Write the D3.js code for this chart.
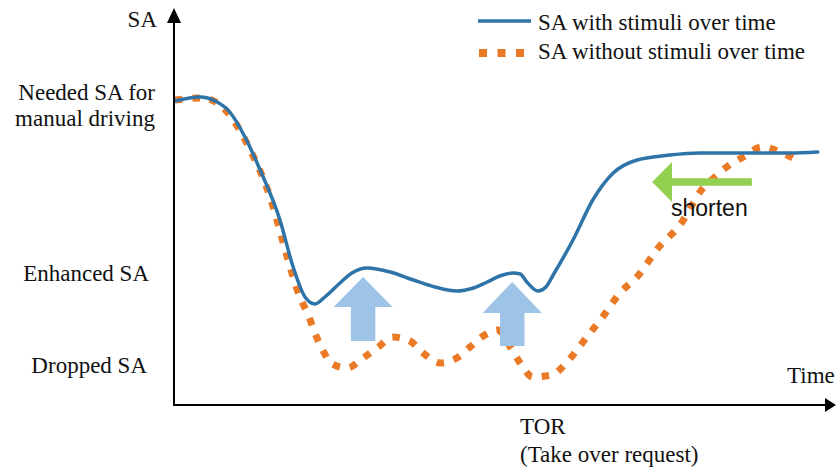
<!DOCTYPE html>
<html><head><meta charset="utf-8">
<script src="https://cdn.jsdelivr.net/npm/d3@7"></script>
<style>
html,body{margin:0;padding:0;background:#fff;}
svg{display:block;}
</style>
</head><body>
<svg id="chart" width="836" height="470"></svg>
<script>
// ---- data (time 0..100, SA 0..100) ----
const withTime = [0,3.8,6.1,8.3,10.6,12.9,15.9,17.9,19.7,21.2,22.7,25,26.8,29.1,32.6,36.1,39.4,42.7,45.2,47.3,49.2,51.2,52.3,53.3,55,56.2,57.3,60.3,63.3,66.4,70,75,79.5,87.1,93.2,97.4];
const withSA   = [76,77,76,73.25,67,58.75,46.25,34.5,27,25.25,27,30.5,33,34.25,33.25,31.25,29.5,28.5,29.25,30.75,32.25,33,32.75,30.75,28.5,29.5,32.5,41.25,51.25,58,61.25,62.5,63,63,63,63.25];
const withoutTime = [0,4.2,7.9,11.4,14.4,17,18.9,20.2,21.2,22.3,23.8,26.1,28.5,30.8,33,35.6,37.6,40.2,42.7,44.7,46.7,48.9,50.8,52.3,54.2,57.1,59.4,62.4,64.8,67.4,70,73.2,76.5,80,81.8,83.8,86.1,88.9,91.7,94.2];
const withoutSA   = [76.25,76.75,73.25,63.75,52,37,27,22.5,18,14,10.25,9.25,11.75,14.5,17,16,13,10.5,11.75,14.5,17.25,18.75,14.5,10.5,7,7.5,10.75,17,22,28,32,39.25,45,54.25,57,59.75,62,64.5,63.25,61.25];
const seriesNames = ["SA with stimuli over time","SA without stimuli over time"];
const levelLabels = ["Needed SA for","manual driving","Enhanced SA","Dropped SA"];
const axisLabels = ["SA","Time","TOR","(Take over request)"];
// up arrows: [tipT, tipV, headBaseV, bottomV]
const upArrows = [[28.5,32,24.5,16],[51.1,30.75,23,14.75]];
// shorten arrow: [tipT, headBaseT, endT, v]
const shortenArrow = [72.3,75.3,87.4,55.75];
const shortenLabel = "shorten";

const SERIF = "'Liberation Serif', 'Times New Roman', Times, serif";
const SANS = "'Liberation Sans', Arial, Helvetica, sans-serif";

const svg = d3.select("#chart");
const x = d3.scaleLinear().domain([0,100]).range([175,835]);
const y = d3.scaleLinear().domain([0,100]).range([405,5]);
const px = v => x(v)-x(0), py = v => y(0)-y(v);

const BLUE="#2e74a8", ORANGE="#eb7a27", LBLUE="#9dc3e6", GREEN="#92d050";

const line = d3.line().x(d=>x(d[0])).y(d=>y(d[1])).curve(d3.curveMonotoneX);
const dWith = d3.zip(withTime, withSA);
const dWithout = d3.zip(withoutTime, withoutSA);

// orange dotted
svg.append("path").attr("d", line(dWithout)).attr("fill","none")
  .attr("stroke",ORANGE).attr("stroke-width",7).attr("stroke-dasharray","7.5,10");
// blue
svg.append("path").attr("d", line(dWith)).attr("fill","none")
  .attr("stroke",BLUE).attr("stroke-width",3.5).attr("stroke-linecap","round");

// up arrows
upArrows.forEach(a=>{
  const [t,tip,hb,bot]=a;
  const hw=px(4.47), sw=px(1.85), cx=x(t);
  const pts=[[cx,y(tip)],[cx+hw,y(hb)],[cx+sw,y(hb)],[cx+sw,y(bot)],[cx-sw,y(bot)],[cx-sw,y(hb)],[cx-hw,y(hb)]];
  svg.append("polygon").attr("points",pts.map(p=>p.join(",")).join(" ")).attr("fill",LBLUE);
});

// shorten arrow
{
  const [tip,hb,end,v]=shortenArrow;
  const hh=py(5), sh=py(0.95), cy=y(v);
  const pts=[[x(tip),cy],[x(hb),cy-hh],[x(hb),cy-sh],[x(end),cy-sh],[x(end),cy+sh],[x(hb),cy+sh],[x(hb),cy+hh]];
  svg.append("polygon").attr("points",pts.map(p=>p.join(",")).join(" ")).attr("fill",GREEN);
  svg.append("text").style("font-family",SANS).style("font-size","23px").attr("fill","#111")
    .attr("x",x(hb)-1).attr("y",216).text(shortenLabel);
}

// axes
const ax = svg.append("g");
ax.append("line").attr("x1",x(0)-1).attr("x2",x(0)-1).attr("y1",y(0)).attr("y2",20).attr("stroke","#000").attr("stroke-width",2);
ax.append("polygon").attr("points",`${x(0)-1},8 ${x(0)-8},23 ${x(0)+6},23`).attr("fill","#000");
ax.append("line").attr("x1",x(0)-2).attr("x2",826).attr("y1",y(0)).attr("y2",y(0)).attr("stroke","#000").attr("stroke-width",2);
ax.append("polygon").attr("points",`836,${y(0)} 825,${y(0)-7} 825,${y(0)+7}`).attr("fill","#000");

// labels
const T=(txt,xx,yy,anchor)=>svg.append("text").style("font-family",SERIF).style("font-size","23px").attr("fill","#111")
  .attr("x",xx).attr("y",yy).attr("text-anchor",anchor||"start").text(txt);
T(axisLabels[0],157,27,"end");
T(levelLabels[0],155,100,"end");
T(levelLabels[1],155,126,"end");
T(levelLabels[2],149,281,"end");
T(levelLabels[3],147,373,"end");
T(axisLabels[1],787,383);
T(axisLabels[2],520,434);
T(axisLabels[3],520,462);

// legend
svg.append("line").attr("x1",478).attr("x2",531).attr("y1",21).attr("y2",21).attr("stroke",BLUE).attr("stroke-width",3.5);
svg.append("line").attr("x1",479).attr("x2",524).attr("y1",53).attr("y2",53).attr("stroke",ORANGE).attr("stroke-width",8).attr("stroke-dasharray","8,10.5");
T(seriesNames[0],538,30);
T(seriesNames[1],538,59);
</script>
</body></html>
